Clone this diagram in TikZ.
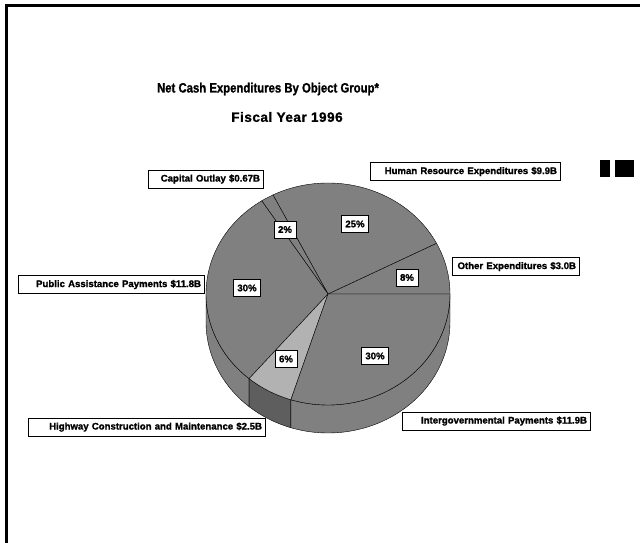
\documentclass[tikz,border=0pt]{standalone}
\usepackage{fontspec}
\setmainfont{Liberation Sans}[BoldFeatures={FakeBold=1.2}]

\definecolor{piegray}{gray}{0.5}
\definecolor{hwtop}{gray}{0.7}
\definecolor{hwside}{gray}{0.37}

\begin{document}
\begin{tikzpicture}[x=1pt,y=1pt,
  lbl/.style={draw,fill=white,font=\bfseries\fontsize{9.6}{11}\selectfont,
    minimum height=18pt,inner xsep=3pt,inner ysep=0pt,align=right},
  pct/.style={draw,fill=white,font=\bfseries\fontsize{9.6}{11}\selectfont,
    minimum height=17pt,inner xsep=4pt,inner ysep=0pt},
  ttl/.style={font=\fontsize{13.5}{16}\selectfont\bfseries\addfontfeatures{FakeBold=2}}]
\useasboundingbox (0,0) rectangle (640,543);
\draw[line width=3pt] (6.5,0) -- (6.5,537) -- (640,537);

\node (title) [ttl] at (268,454) {\addfontfeatures{FakeStretch=0.84}Net Cash Expenditures By Object Group*};
\node (year) [ttl] at (287,426) {\addfontfeatures{LetterSpace=4}Fiscal Year 1996};

\fill (600,366) rectangle (610,383);
\fill (615,366) rectangle (634,383);

\coordinate (c) at (328,249);

\foreach \a/\b/\col in {180/229.7/piegray, 229.7/252.3/hwside, 252.3/360/piegray}
  \filldraw[fill=\col] (c) ++(\a:122 and 111)
    arc[start angle=\a,end angle=\b,x radius=122,y radius=111] -- ++(0,-28)
    arc[start angle=\b,end angle=\a,x radius=122,y radius=111] -- cycle;

\foreach \a/\b/\col in {0/27.2/piegray, 27.2/116.8/piegray, 116.8/122.9/piegray,
    122.9/229.7/piegray, 229.7/252.3/hwtop, 252.3/360/piegray}
  \filldraw[fill=\col] (c) -- ++(\a:122 and 111)
    arc[start angle=\a,end angle=\b,x radius=122,y radius=111] -- cycle;

\node (p2) [pct] at (285,313.5) {2\%};
\node (p25) [pct] at (355,319) {25\%};
\node (p8) [pct] at (407,265.5) {8\%};
\node (p30a) [pct] at (247,255) {30\%};
\node (p6) [pct] at (286,184) {6\%};
\node (p30b) [pct] at (375,187) {30\%};

\node (capital) [lbl,text width=109pt] at (205.5,364) {Capital Outlay \$0.67B};
\node (human) [lbl,text width=184pt] at (465,371.5) {Human Resource Expenditures \$9.9B};
\node (public) [lbl,text width=180pt] at (111,258.5) {Public Assistance Payments \$11.8B};
\node (other) [lbl,text width=121pt] at (515.5,276.5) {Other Expenditures \$3.0B};
\node (inter) [lbl,text width=182pt] at (496,122) {Intergovernmental Payments \$11.9B};
\node (highway) [lbl,text width=231pt] at (146.5,116) {Highway Construction and Maintenance \$2.5B};
\end{tikzpicture}
\end{document}
